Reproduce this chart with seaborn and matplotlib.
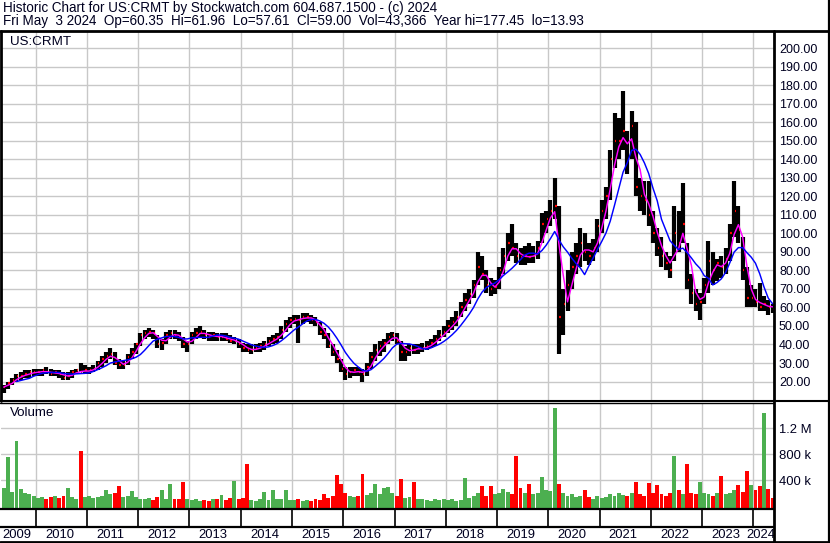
import numpy as np
import pandas as pd
import matplotlib
matplotlib.use("Agg")
import matplotlib.pyplot as plt
import seaborn as sns

sns.set_theme(style="white")
plt.rcParams["font.family"] = ["Liberation Sans", "DejaVu Sans"]

# ---------------- data (monthly, May 2009 .. May 2024) ----------------
start_year, start_month = 2009, 5

close_px = [
    17, 19, 21, 23, 23, 24, 25, 25,                              # 2009
    25, 26, 25, 24, 25, 24, 22, 23, 25, 26, 25, 26,              # 2010
    26, 27, 30, 32, 34, 35, 30, 29, 29, 33, 36, 40,              # 2011
    45, 46, 47, 46, 40, 41, 45, 46, 45, 44, 40, 40,              # 2012
    45, 46, 47, 45, 44, 45, 44, 44, 43, 42, 42, 40,              # 2013
    38, 37, 37, 38, 39, 40, 42, 43, 44, 48, 51, 53,              # 2014
    54, 53, 55, 55, 53, 52, 47, 45, 39, 36, 32, 27,              # 2015
    24, 25, 26, 25, 24, 28, 33, 37, 39, 41, 44, 45,              # 2016
    42, 36, 36, 38, 37, 38, 38, 39, 41, 43, 45, 47,              # 2017
    50, 52, 55, 60, 64, 67, 72, 82, 78, 72, 70, 71,              # 2018
    80, 88, 95, 92, 88, 87, 88, 87, 88, 92, 105, 108,            # 2019
    112, 115, 55, 62, 72, 82, 88, 95, 90, 88, 92, 104,           # 2020
    112, 120, 140, 150, 150, 155, 140, 158, 125, 120, 118, 110,  # 2021
    100, 92, 88, 84, 80, 100, 95, 105, 75, 68, 62, 63,           # 2022
    72, 85, 80, 84, 82, 86, 100, 112, 102, 80, 65, 65,           # 2023
    63, 60, 62, 60, 59,                                          # 2024
]
high_px = [
    18, 20, 22, 24, 25, 26, 26, 27,
    27, 27, 28, 27, 26, 26, 25, 25, 26, 27, 30, 29,
    28, 29, 31, 34, 36, 38, 36, 32, 31, 35, 38, 41,
    46, 48, 49, 48, 45, 43, 47, 48, 48, 47, 44, 42,
    47, 49, 50, 48, 47, 47, 46, 46, 46, 45, 44, 43,
    41, 40, 40, 40, 41, 42, 44, 45, 46, 50, 53, 55,
    56, 56, 57, 57, 56, 55, 52, 49, 46, 40, 37, 32,
    28, 28, 28, 28, 27, 30, 36, 40, 42, 43, 46, 47,
    46, 42, 39, 40, 40, 40, 41, 42, 43, 45, 48, 50,
    53, 55, 58, 63, 68, 70, 75, 90, 88, 80, 76, 75,
    82, 92, 100, 105, 95, 92, 93, 95, 93, 96, 111, 112,
    118, 130, 115, 70, 80, 90, 95, 103, 100, 95, 97, 108,
    118, 125, 145, 165, 162, 177, 155, 166, 160, 130, 128, 128,
    112, 103, 98, 90, 88, 115, 112, 127, 95, 78, 70, 68,
    76, 96, 90, 86, 88, 92, 105, 128, 115, 98, 82, 72,
    70, 73, 66, 64, 62,
]
low_px = [
    13.9, 16, 18, 20, 21, 22, 22, 23,
    23, 23, 24, 23, 23, 22, 21, 21, 22, 24, 25, 24,
    24, 25, 26, 28, 30, 32, 29, 27, 27, 29, 32, 35,
    39, 43, 44, 43, 38, 37, 40, 43, 43, 42, 38, 36,
    40, 43, 44, 43, 42, 42, 42, 42, 42, 41, 40, 38,
    36, 36, 35, 36, 36, 37, 39, 40, 41, 43, 47, 49,
    51, 41, 51, 52, 51, 50, 45, 43, 38, 34, 30, 25,
    21, 22, 23, 23, 20, 23, 27, 31, 34, 36, 40, 42,
    40, 31, 31, 34, 35, 35, 36, 37, 38, 39, 42, 44,
    46, 48, 50, 55, 58, 62, 65, 72, 75, 68, 66, 67,
    70, 78, 85, 88, 84, 83, 83, 84, 84, 86, 95, 100,
    104, 108, 35, 45, 58, 70, 78, 82, 85, 83, 85, 90,
    100, 108, 118, 135, 140, 145, 132, 140, 120, 112, 110, 104,
    95, 88, 82, 80, 76, 85, 90, 95, 70, 62, 58, 53,
    62, 68, 72, 74, 76, 78, 85, 98, 95, 75, 60, 60,
    60, 58, 58, 56, 57,
]
volume_k = [
    280, 750, 220, 1000, 260, 200, 180, 150,
    120, 140, 110, 130, 160, 120, 150, 270, 130, 110, 850, 130,
    150, 120, 140, 160, 250, 180, 200, 300, 140, 160, 230, 130,
    110, 100, 120, 90, 130, 250, 110, 345, 100, 110, 370, 100,
    90, 100, 80, 90, 80, 100, 110, 165, 90, 120, 390, 100,
    120, 655, 90, 80, 100, 215, 90, 250, 100, 110, 250, 90,
    90, 100, 80, 90, 80, 100, 90, 190, 120, 150, 480, 335,
    200, 150, 140, 160, 500, 170, 200, 345, 180, 280, 295, 200,
    150, 410, 120, 130, 370, 100, 110, 90, 80, 100, 90, 110,
    90, 100, 80, 90, 430, 120, 150, 200, 310, 150, 310, 180,
    200, 260, 220, 180, 775, 280, 200, 335, 180, 200, 440, 250,
    230, 1510, 335, 200, 150, 180, 140, 160, 250, 130, 110, 150,
    120, 130, 180, 150, 200, 170, 160, 200, 375, 180, 160, 360,
    200, 325, 180, 160, 200, 775, 250, 180, 655, 200, 180, 375,
    200, 180, 160, 200, 465, 180, 200, 250, 325, 220, 540, 325,
    250, 300, 1440, 260, 120,
]
price_ticks = list(range(20, 201, 10))
vol_ticks = [400, 800, 1200]
vol_tick_labels = ["400 k", "800 k", "1.2 M"]
years = list(range(2009, 2025))
title1 = "Historic Chart for US:CRMT by Stockwatch.com 604.687.1500 - (c) 2024"
title2 = ("Fri May  3 2024  Op=60.35  Hi=61.96  Lo=57.61  Cl=59.00  "
          "Vol=43,366  Year hi=177.45  lo=13.93")

# ---------------- derived frame ----------------
n = len(close_px)
t = np.array([start_year + (start_month - 1 + i) / 12 + 1 / 24 for i in range(n)])
df = pd.DataFrame({"t": t, "close": close_px, "high": high_px,
                   "low": low_px, "vol": volume_k})
df["ma_short"] = df["close"].rolling(3, min_periods=1).mean()
df["ma_long"] = df["close"].rolling(7, min_periods=4).mean()
up = df["close"].diff().fillna(1) >= 0

# ---------------- layout ----------------
W, H = 830, 543
fig = plt.figure(figsize=(W / 100, H / 100), dpi=100)
fig.patch.set_facecolor("white")


def box(x0, y0, x1, y1):
    return [x0 / W, 1 - y1 / H, (x1 - x0) / W, (y1 - y0) / H]


PXY, X2010 = 51.26, 35.7


def px2t(px):
    return 2010 + (px - X2010) / PXY


XL = (px2t(1), px2t(774))
GRID = "#c8c8c8"
TXT = "#000020"

ax = fig.add_axes(box(1, 31, 774, 401))
axv = fig.add_axes(box(1, 403, 774, 509))
axy = fig.add_axes(box(1, 509, 774, 541))
ov = fig.add_axes([0, 0, 1, 1], zorder=20)
ov.set_xlim(0, W)
ov.set_ylim(H, 0)
ov.axis("off")
ov.patch.set_alpha(0)

for a in (ax, axv, axy):
    a.set_xlim(*XL)
    for s in a.spines.values():
        s.set_visible(False)
    a.set_facecolor("white")

# ---------------- price panel ----------------
ax.set_ylim(9.5, 209.2)
ax.set_xticks(years[1:])
ax.set_xticklabels([])
ax.set_yticks(price_ticks)
ax.set_yticklabels([f"{v:.2f}" for v in price_ticks])
ax.yaxis.tick_right()
ax.tick_params(axis="both", length=0)
ax.tick_params(axis="y", pad=3.6, labelsize=9, labelcolor=TXT)
ax.grid(True, color=GRID, linewidth=1.0)
ax.set_axisbelow(True)

ax.vlines(df["t"], df["low"], df["high"], color="black", linewidth=3.0, zorder=2)
ax.hlines(df["close"], df["t"] + 0.008, df["t"] + 0.035, color="#ff0000",
          linewidth=1.6, zorder=3)

ma = pd.concat([
    pd.DataFrame({"t": df["t"], "v": df["ma_short"], "s": "short"}),
    pd.DataFrame({"t": df["t"], "v": df["ma_long"], "s": "long"}),
]).dropna()
sns.lineplot(data=ma, x="t", y="v", hue="s", palette={"short": "#ff00ff", "long": "#0000ff"},
             estimator=None, sort=True, legend=False, linewidth=1.05, ax=ax, zorder=4)
ax.set_xlabel("")
ax.set_ylabel("")
ax.text(8.5 / 773, 1 - 11 / 370, "US:CRMT", transform=ax.transAxes, fontsize=9.6,
        va="center", ha="left", color=TXT)

# ---------------- volume panel ----------------
axv.set_ylim(-48, 1591)
axv.set_xticks(years[1:])
axv.set_xticklabels([])
axv.set_yticks(vol_ticks)
axv.set_yticklabels(vol_tick_labels)
axv.yaxis.tick_right()
axv.tick_params(axis="both", length=0)
axv.tick_params(axis="y", pad=3.6, labelsize=9.4, labelcolor=TXT)
axv.grid(True, color=GRID, linewidth=1.0)
axv.set_axisbelow(True)
axv.bar(df["t"], df["vol"] + 48, bottom=-48, width=1 / 12 * 0.92,
        color=np.where(up, "#4caf50", "#ff0000"), linewidth=0, zorder=2)
axv.text(9 / 773, 1 - 10 / 106, "Volume", transform=axv.transAxes, fontsize=9.6,
         va="center", ha="left", color=TXT)

# ---------------- year strip ----------------
axy.set_ylim(541, 509)
axy.set_xticks([])
axy.set_yticks([])
axy.vlines(years[1:], 509, 527, color="black", linewidth=1.2)
for y in years:
    if y == years[0]:
        axy.text(px2t(2.7), 534.5, str(y), ha="left", va="center", fontsize=9.4,
                 color=TXT, clip_on=False)
    elif y == years[-1]:
        axy.text(px2t(775.5), 534.5, str(y), ha="right", va="center", fontsize=9.4,
                 color=TXT, clip_on=False)
    else:
        axy.text(y + 9.3 / PXY, 534.5, str(y), ha="left", va="center", fontsize=9.4,
                 color=TXT, clip_on=False)

# ---------------- frame lines ----------------
K = "black"
ov.plot([0, W], [31, 31], color=K, lw=2.0)
ov.plot([0, W], [401, 401], color=K, lw=1.5)
ov.plot([0, 774], [403.3, 403.3], color=K, lw=1.0)
ov.plot([0, 774], [509.3, 509.3], color=K, lw=1.6)
ov.plot([0, 774], [527, 527], color=K, lw=1.6)
ov.plot([0, W], [541.6, 541.6], color=K, lw=2.0)
ov.plot([774.3, 774.3], [31, 543], color=K, lw=2.0)
ov.plot([0.9, 0.9], [31, 401], color=K, lw=2.0)
ov.plot([829, 829], [0, 543], color=K, lw=1.6)

ov.text(2.7, 8, title1, ha="left", va="center", fontsize=9.75, color=TXT)
ov.text(2.7, 21, title2, ha="left", va="center", fontsize=9.75, color=TXT)

fig.savefig("out.png", dpi=100)
